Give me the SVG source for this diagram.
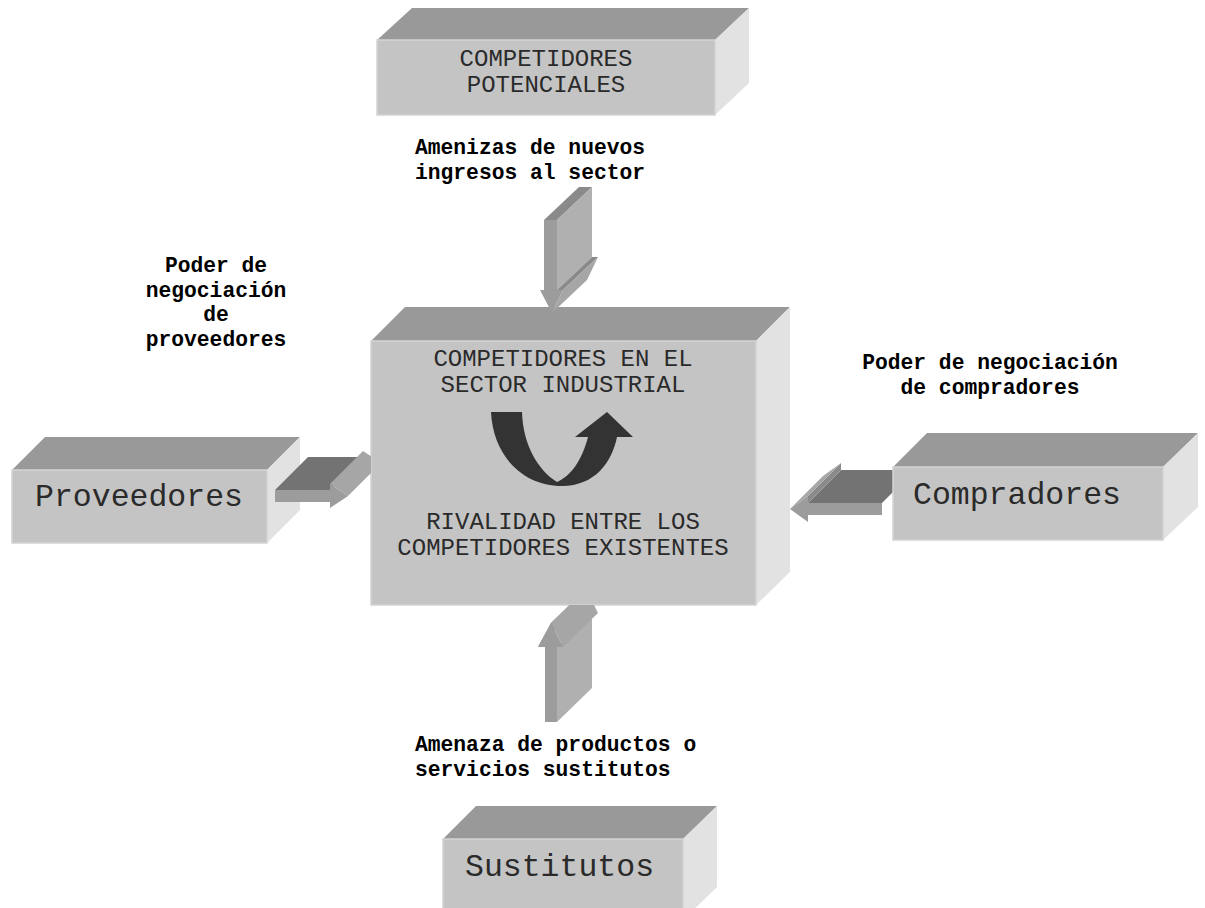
<svg xmlns="http://www.w3.org/2000/svg" width="1205" height="908" viewBox="0 0 1205 908">
  <style>
    .front { fill: #c4c4c4; stroke: #d3d3d3; stroke-width: 1.5; }
    .top { fill: #999999; }
    .side { fill: #e2e2e2; }
    .box-text { font-family: "Liberation Mono", "Courier New", monospace; fill: #2a2a2a; }
    .mid { font-size: 24px; }
    .big { font-size: 31.5px; }
    .label { font-family: "Liberation Mono", "Courier New", monospace; font-size: 21.3px; font-weight: bold; fill: #000; }
    .a-front { fill: #9c9c9c; }
    .a-top { fill: #737373; }
    .a-top-v { fill: #8a8a8a; }
    .a-side { fill: #b0b0b0; }
    .a-slope { fill: #a6a6a6; }
  </style>
  <defs>
    <clipPath id="clip-left">
      <rect x="0" y="0" width="371" height="908"/>
    </clipPath>
    <clipPath id="clip-bottom">
      <rect x="0" y="605" width="1205" height="303"/>
    </clipPath>
  </defs>
  <rect width="1205" height="908" fill="#ffffff"/>

  <!-- Suppliers -->
  <g id="proveedores">
    <polygon class="top" points="12,470 45,437 300,437 267,470"/>
    <polygon class="side" points="267,470 300,437 300,510 267,543"/>
    <rect class="front" x="12" y="470" width="255" height="73"/>
    <text class="box-text big" x="139" y="506" text-anchor="middle">Proveedores</text>
  </g>

  <!-- Central rivalry block -->
  <g id="sector-industrial">
    <polygon class="top" points="371,341 405,307 790,307 756,341"/>
    <polygon class="side" points="756,341 790,307 790,572 756,605"/>
    <rect class="front" x="371" y="341" width="385" height="264"/>
    <text class="box-text mid" x="563" y="366" text-anchor="middle">COMPETIDORES EN EL</text>
    <text class="box-text mid" x="563" y="392" text-anchor="middle">SECTOR INDUSTRIAL</text>
    <path d="M491,412 C493,455 522,486 562,486 C595,486 612,462 617,437 L633,437 L607,412 L575,437 L588,437 C582,460 571,476 557,482 C538,470 523,445 522,412 Z" fill="#333333"/>
    <text class="box-text mid" x="563" y="529" text-anchor="middle">RIVALIDAD ENTRE LOS</text>
    <text class="box-text mid" x="563" y="555" text-anchor="middle">COMPETIDORES EXISTENTES</text>
  </g>

  <!-- Force arrows -->
  <g id="connectors">
    <!-- suppliers -> sector -->
    <g id="arrow-proveedores" clip-path="url(#clip-left)">
      <polygon class="a-top" points="275,490 330,490 363,457 308,457"/>
      <polygon class="a-slope" points="330,484 348,496 381,463 363,451"/>
      <polygon class="a-front" points="275,490 330,490 330,484 348,496 330,508 330,502 275,502"/>
    </g>
    <!-- buyers -> sector -->
    <g id="arrow-compradores">
      <polygon class="a-top" points="808,503 882,503 915,470 841,470"/>
      <polygon class="a-top-v" points="808,496 808,503 841,470 841,463"/>
      <polygon class="a-slope" points="790,509 808,496 841,463 823,476"/>
      <polygon class="a-front" points="882,503 808,503 808,496 790,509 808,522 808,515 882,515"/>
    </g>
    <!-- substitutes -> sector -->
    <g id="arrow-sustitutos" clip-path="url(#clip-bottom)">
      <polygon class="a-side" points="557,647 592,613 592,688 557,722"/>
      <polygon class="a-top-v" points="538,647 551,623 586,589 573,613"/>
      <polygon class="a-slope" points="551,623 563,647 598,613 586,589"/>
      <polygon class="a-front" points="545,722 545,647 538,647 551,623 563,647 557,647 557,722"/>
    </g>
    <!-- new entrants -> sector -->
    <g id="arrow-potenciales">
      <polygon class="a-top-v" points="544,220 557,220 592,187 579,187"/>
      <polygon class="a-side" points="557,220 592,187 592,257 557,290"/>
      <polygon class="a-top-v" points="557,290 563,290 598,257 592,257"/>
      <polygon class="a-slope" points="563,290 598,257 587,280 552,313"/>
      <polygon class="a-front" points="544,220 557,220 557,290 563,290 552,313 540,290 544,290"/>
    </g>
  </g>

  <!-- Potential entrants -->
  <g id="competidores-potenciales">
    <polygon class="top" points="377,40 412,8 749,8 715,40"/>
    <polygon class="side" points="715,40 749,8 749,83 715,115"/>
    <rect class="front" x="377" y="40" width="338" height="75"/>
    <text class="box-text mid" x="546" y="66" text-anchor="middle">COMPETIDORES</text>
    <text class="box-text mid" x="546" y="92" text-anchor="middle">POTENCIALES</text>
  </g>

  <!-- Buyers -->
  <g id="compradores">
    <polygon class="top" points="893,467 927,433 1198,433 1163,467"/>
    <polygon class="side" points="1163,467 1198,433 1198,507 1163,540"/>
    <rect class="front" x="893" y="467" width="270" height="73"/>
    <text class="box-text big" x="913" y="504">Compradores</text>
  </g>

  <!-- Substitutes -->
  <g id="sustitutos">
    <polygon class="top" points="443,839 476,806 717,806 683,839"/>
    <polygon class="side" points="683,839 717,806 717,887 683,920"/>
    <rect class="front" x="443" y="839" width="240" height="81"/>
    <text class="box-text big" x="465" y="876">Sustitutos</text>
  </g>

  <!-- Force labels -->
  <g id="labels">
    <text class="label" x="415" y="154">Amenizas de nuevos</text>
    <text class="label" x="415" y="179">ingresos al sector</text>
    <text class="label" x="216" y="272" text-anchor="middle">Poder de</text>
    <text class="label" x="216" y="297" text-anchor="middle">negociación</text>
    <text class="label" x="216" y="321" text-anchor="middle">de</text>
    <text class="label" x="216" y="346" text-anchor="middle">proveedores</text>
    <text class="label" x="990" y="369" text-anchor="middle">Poder de negociación</text>
    <text class="label" x="990" y="394" text-anchor="middle">de compradores</text>
    <text class="label" x="415" y="751">Amenaza de productos o</text>
    <text class="label" x="415" y="776">servicios sustitutos</text>
  </g>
</svg>
